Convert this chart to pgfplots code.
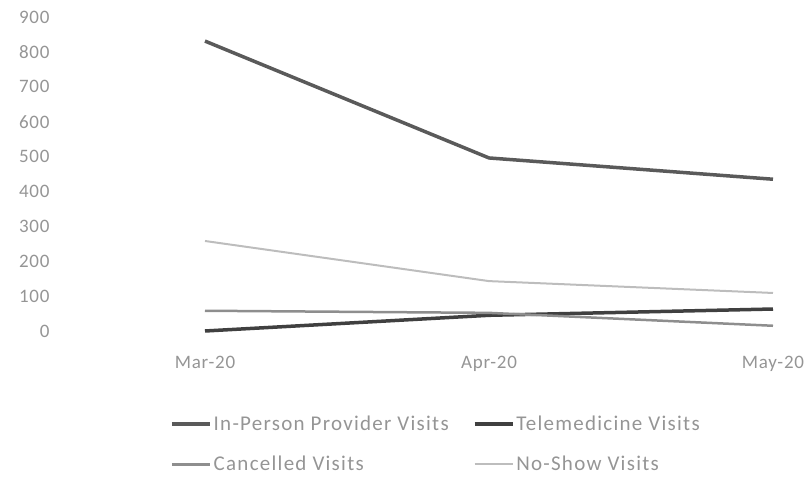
\documentclass[border=0pt]{standalone}
\usepackage{fontspec}
\setmainfont{Carlito}
\usepackage{pgfplots}
\pgfplotsset{compat=1.18}
\definecolor{txt}{HTML}{959595}
\definecolor{inp}{HTML}{5A5A5A}
\definecolor{tele}{HTML}{404040}
\definecolor{canc}{HTML}{8E8E8E}
\definecolor{nosh}{HTML}{BDBDBD}
\begin{document}
\begin{tikzpicture}
\useasboundingbox (-205pt,-150pt) rectangle (602pt,331pt);
\begin{axis}[
  scale only axis,
  width=568pt, height=314pt,
  xmin=0, xmax=2, ymin=0, ymax=900,
  axis line style={draw=none},
  tick style={draw=none},
  xtick={0,1,2},
  xticklabels={Mar-20,Apr-20,May-20},
  ytick={0,100,...,900},
  /pgf/number format/assume math mode=true,
  every tick label/.append style={font=\fontsize{19}{22}\selectfont\addfontfeature{LetterSpace=4}, text=txt},
  yticklabel style={anchor=east, xshift=-152pt},
  xticklabel style={anchor=north, yshift=-22pt},
  clip=false,
  legend columns=2,
  legend cell align=left,
  legend style={at={(-35pt,-83pt)}, anchor=north west, draw=none, fill=none,
    font=\fontsize{21}{24}\selectfont\addfontfeature{LetterSpace=6}, text=txt, row sep=20pt,
    /tikz/every even column/.append style={column sep=22pt},
    inner sep=0pt},
  legend image code/.code={\draw[#1] (0pt,0pt) -- (38pt,0pt);},
]
\addplot[inp, line width=3.5pt] coordinates {(0,831) (1,496) (2,435)};
\addlegendentry{In-Person Provider Visits}
\addplot[tele, line width=3.5pt] coordinates {(0,0) (1,45) (2,63)};
\addlegendentry{Telemedicine Visits}
\addplot[canc, line width=2.5pt] coordinates {(0,58) (1,52) (2,15)};
\addlegendentry{Cancelled Visits}
\addplot[nosh, line width=2pt] coordinates {(0,258) (1,143) (2,109)};
\addlegendentry{No-Show Visits}
\end{axis}
\end{tikzpicture}
\end{document}
